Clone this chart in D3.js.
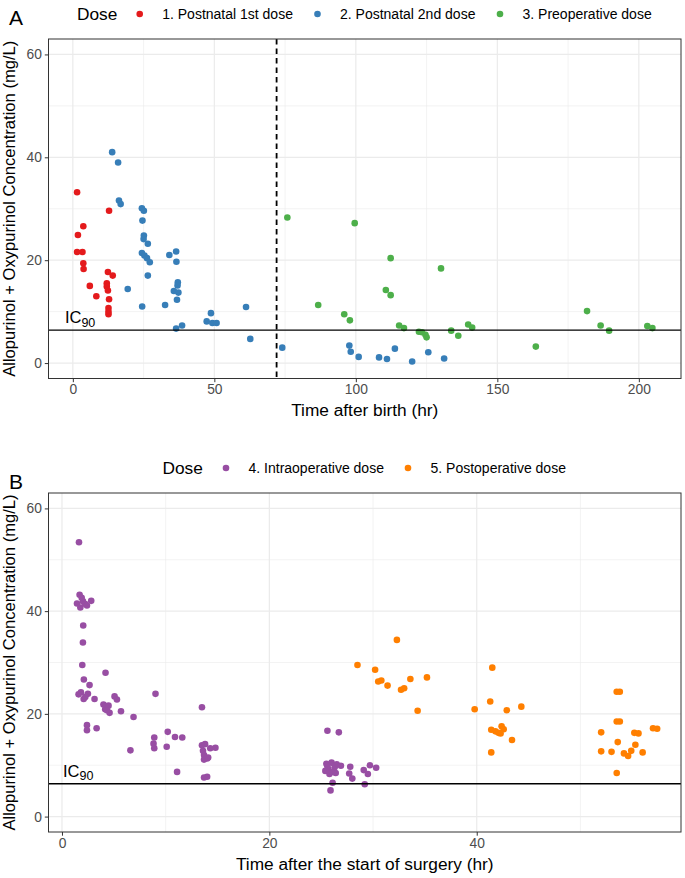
<!DOCTYPE html>
<html><head><meta charset="utf-8">
<script src="https://cdn.jsdelivr.net/npm/d3@7"></script>
<style>body{margin:0;background:#fff;} svg{display:block;font-family:"Liberation Sans",Arial,sans-serif;}</style>
</head><body>
<svg id="c" width="685" height="878"></svg>
<script>
// ---------- data ----------
const doseLabelsA = ["1. Postnatal 1st dose","2. Postnatal 2nd dose","3. Preoperative dose"];
const doseLabelsB = ["4. Intraoperative dose","5. Postoperative dose"];
const doseColors = ["#E41A1C","#377EB8","#4DAF4A","#984EA3","#FF7F00"];
const ic90 = 6.4;
const surgeryStart = 72;
const ticksA_x = [0,50,100,150,200];
const ticksB_x = [0,20,40];
const ticksY = [0,20,40,60];

// [time (hr), concentration (mg/L)]
const postnatal1 = [[1.5,33.2],[12.8,29.6],[3.7,26.6],[1.8,24.9],[1.5,21.6],[3.4,21.6],[3.7,19.4],[3.8,18.3],[12.4,17.7],[14.1,17.0],[6.0,15.0],[12.0,15.5],[12.0,14.9],[12.4,14.1],[8.3,13.0],[12.8,12.4],[12.6,10.7],[12.6,10.0],[12.6,9.5]];
const postnatal2 = [[13.9,41.0],[16.0,39.0],[16.3,31.6],[16.9,30.9],[24.4,30.1],[25.1,29.6],[24.6,27.7],[25.1,24.8],[25.0,24.1],[26.5,23.2],[24.4,21.4],[25.3,20.9],[26.2,20.4],[27.2,19.6],[26.5,17.0],[19.4,14.4],[24.5,11.0],[32.6,11.3],[34.1,21.0],[36.5,21.7],[36.6,19.7],[37.1,15.7],[37.0,15.1],[35.7,14.0],[37.3,13.7],[36.8,12.3],[36.5,6.7],[38.6,7.3],[48.8,9.7],[47.3,8.1],[49.3,7.8],[50.8,7.8],[61.2,10.9],[62.7,4.7],[74.0,3.0],[97.7,3.4],[98.2,2.2],[101.0,1.2],[108.2,1.1],[111.0,0.8],[113.8,2.8],[119.9,0.3],[125.6,2.1],[131.2,0.9]];
const preoperative = [[75.8,28.3],[99.6,27.2],[112.3,20.4],[130.1,18.4],[110.6,14.2],[112.3,13.2],[86.7,11.3],[95.9,9.5],[97.9,8.3],[115.3,7.3],[117.0,6.8],[122.3,6.1],[123.4,6.0],[124.6,5.5],[125.0,5.0],[133.7,6.3],[136.2,5.3],[139.7,7.5],[141.1,6.9],[163.6,3.2],[181.7,10.1],[186.5,7.3],[189.5,6.3],[203.0,7.2],[204.8,6.8]];
const intraoperative = [[1.64,53.4],[1.7,43.2],[1.45,41.5],[1.77,40.7],[2.03,41.9],[2.25,41.4],[2.82,42.0],[2.41,41.1],[1.9,42.6],[2.05,37.2],[2.02,33.9],[1.96,29.5],[2.11,26.7],[2.66,25.6],[4.2,28.0],[1.83,24.2],[2.09,22.9],[2.5,23.9],[2.25,23.3],[1.6,23.8],[3.14,22.9],[5.07,23.4],[5.3,22.8],[4.0,21.8],[4.17,20.9],[4.49,21.6],[4.59,20.2],[4.34,20.7],[5.69,20.5],[6.9,19.4],[9.02,23.9],[2.41,17.8],[2.41,16.8],[3.34,17.2],[6.6,12.9],[10.2,16.5],[10.9,15.5],[11.6,15.4],[8.9,15.4],[8.83,14.2],[8.9,13.3],[10.1,13.6],[11.1,8.7],[13.5,21.3],[13.5,13.9],[13.8,14.1],[14.3,13.3],[14.8,13.4],[13.6,12.8],[13.7,12.0],[14.0,11.3],[13.7,11.1],[14.1,11.5],[13.7,7.6],[14.0,7.75],[25.6,16.7],[26.7,16.4],[25.5,10.3],[26.0,10.5],[26.5,10.2],[26.9,9.9],[25.7,9.2],[26.2,8.7],[25.8,8.3],[26.4,8.5],[26.1,6.6],[25.9,5.1],[27.8,9.7],[27.7,8.4],[28.0,7.4],[29.1,9.05],[29.5,8.3],[29.7,10.0],[30.3,9.5],[29.2,6.3],[25.6,9.8],[26.3,9.6],[25.4,8.9]];
const postoperative = [[32.3,34.4],[28.5,29.5],[30.2,28.6],[30.5,26.3],[30.8,26.5],[31.4,25.5],[32.7,24.7],[33.0,25.0],[33.6,26.8],[35.2,27.1],[34.3,20.6],[41.5,29.0],[41.3,22.4],[39.8,20.9],[42.9,20.7],[44.3,21.4],[41.4,16.9],[41.8,16.6],[42.1,16.3],[42.4,17.6],[42.6,17.0],[42.3,16.2],[43.4,14.9],[41.4,12.5],[53.5,24.3],[53.8,24.3],[52.0,16.4],[53.5,18.5],[53.8,18.5],[55.2,16.3],[55.6,16.2],[57.0,17.2],[57.4,17.1],[52.0,12.7],[53.0,12.6],[53.6,14.5],[54.2,12.3],[54.6,11.8],[54.9,12.8],[55.3,14.0],[56.0,12.5],[53.5,8.5]];

// ---------- drawing ----------
const svg = d3.select("#c");
const L = 48.5, R = 681;
const FONT = "Liberation Sans, Arial, sans-serif";

function panel(opt){
  const g = svg.append("g");
  const x = d3.scaleLinear().domain(opt.xDomain).range([L,R]);
  const y = d3.scaleLinear().domain([-3,63]).range([opt.bottom,opt.top]);
  const xMinor = opt.xMinor, yMinor = [10,30,50];
  g.selectAll(".xm").data(xMinor).join("line").attr("x1",d=>x(d)).attr("x2",d=>x(d)).attr("y1",opt.top).attr("y2",opt.bottom).attr("stroke","#EBEBEB").attr("stroke-width",0.6);
  g.selectAll(".ym").data(yMinor).join("line").attr("y1",d=>y(d)).attr("y2",d=>y(d)).attr("x1",L).attr("x2",R).attr("stroke","#EBEBEB").attr("stroke-width",0.6);
  g.selectAll(".xg").data(opt.xTicks).join("line").attr("x1",d=>x(d)).attr("x2",d=>x(d)).attr("y1",opt.top).attr("y2",opt.bottom).attr("stroke","#EBEBEB").attr("stroke-width",1.2);
  g.selectAll(".yg").data(ticksY).join("line").attr("y1",d=>y(d)).attr("y2",d=>y(d)).attr("x1",L).attr("x2",R).attr("stroke","#EBEBEB").attr("stroke-width",1.2);
  opt.series.forEach(s=>{
    g.append("g").selectAll("circle").data(s.data).join("circle")
      .attr("cx",d=>x(d[0])).attr("cy",d=>y(d[1])).attr("r",3.3).attr("fill",s.color);
  });
  g.append("line").attr("x1",L).attr("x2",R).attr("y1",y(ic90)).attr("y2",y(ic90)).attr("stroke","#000").attr("stroke-width",1.4);
  const t = g.append("text").attr("x",x(opt.icX)).attr("y",y(ic90)-7).attr("font-size",16.5).attr("fill","#000");
  t.append("tspan").text("IC");
  t.append("tspan").attr("font-size",12.5).attr("dy",3.5).text("90");
  if(opt.vline!==undefined){
    g.append("line").attr("x1",x(opt.vline)).attr("x2",x(opt.vline)).attr("y1",opt.top).attr("y2",opt.bottom).attr("stroke","#000").attr("stroke-width",1.8).attr("stroke-dasharray","5.5,4");
  }
  g.append("rect").attr("x",L).attr("y",opt.top).attr("width",R-L).attr("height",opt.bottom-opt.top).attr("fill","none").attr("stroke","#333").attr("stroke-width",1);
  const xa = g.append("g").attr("transform",`translate(0,${opt.bottom})`).call(d3.axisBottom(x).tickValues(opt.xTicks).tickSize(3.7).tickPadding(2.5));
  const ya = g.append("g").attr("transform",`translate(${L},0)`).call(d3.axisLeft(y).tickValues(ticksY).tickSize(3.7).tickPadding(3));
  [xa,ya].forEach(a=>{
    a.select(".domain").remove();
    a.selectAll(".tick line").attr("stroke","#333").attr("stroke-width",1);
    a.selectAll(".tick text").attr("fill","#4D4D4D").attr("font-size",13.8).attr("font-family",FONT);
  });
  g.append("text").attr("x",(L+R)/2).attr("y",opt.bottom+37.5).attr("text-anchor","middle").attr("font-size",17.3).text(opt.xTitle);
  g.append("text").attr("transform",`translate(15,${(opt.top+opt.bottom)/2}) rotate(-90)`).attr("text-anchor","middle").attr("font-size",16.6).text("Allopurinol + Oxypurinol Concentration (mg/L)");
  g.append("text").attr("x",9).attr("y",opt.letterY).attr("font-size",21).text(opt.letter);
  const lg = g.append("g");
  lg.append("text").attr("x",opt.legX).attr("y",opt.legY+6).attr("font-size",17.3).text("Dose");
  opt.series.forEach((s,i)=>{
    lg.append("circle").attr("cx",opt.legDots[i]).attr("cy",opt.legY).attr("r",3.3).attr("fill",s.color);
    lg.append("text").attr("x",opt.legDots[i]+22.5).attr("y",opt.legY+5).attr("font-size",14).text(s.label);
  });
}

panel({
  top:39, bottom:378.5, xDomain:[-8.6,214.9], xTicks:ticksA_x, xMinor:[25,75,125,175],
  series:[{data:postnatal1,color:doseColors[0],label:doseLabelsA[0]},{data:postnatal2,color:doseColors[1],label:doseLabelsA[1]},{data:preoperative,color:doseColors[2],label:doseLabelsA[2]}],
  icX:-2.8, vline:surgeryStart, xTitle:"Time after birth (hr)", letter:"A", letterY:25,
  legX:77, legY:14, legDots:[139.7,317.5,500]
});
panel({
  top:493, bottom:832, xDomain:[-1.3,59.7], xTicks:ticksB_x, xMinor:[10,30,50],
  series:[{data:intraoperative,color:doseColors[3],label:doseLabelsB[0]},{data:postoperative,color:doseColors[4],label:doseLabelsB[1]}],
  icX:0.1, xTitle:"Time after the start of surgery (hr)", letter:"B", letterY:489,
  legX:162.5, legY:468, legDots:[226,408]
});
</script>
</body></html>
